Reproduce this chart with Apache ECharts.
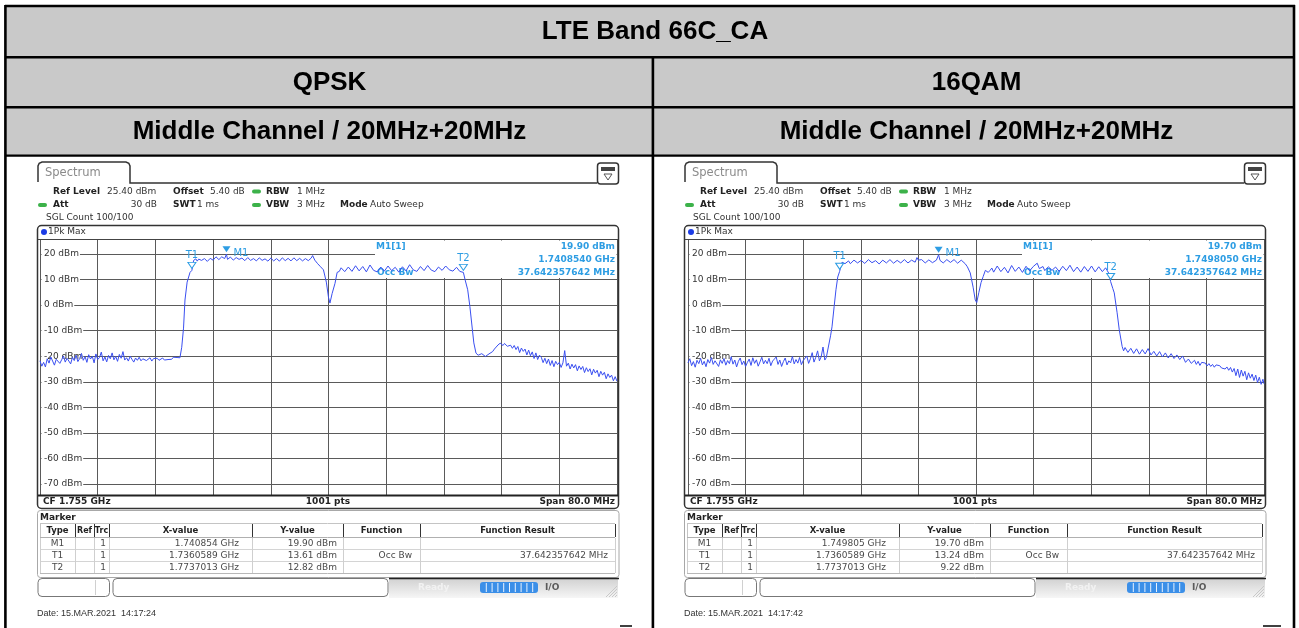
<!DOCTYPE html>
<html>
<head>
<meta charset="utf-8">
<script src="https://cdn.jsdelivr.net/npm/echarts@6/dist/echarts.min.js"></script>
<style>
  html, body { margin: 0; padding: 0; background: #fff; }
  #chart { width: 1299px; height: 628px; }
</style>
</head>
<body>
<div id="chart"></div>
<script>
// ---- data (x = MHz from start freq 1.715 GHz, y = dBm) ----
const tableTitle = 'LTE Band 66C_CA';
const panelTitles = ['QPSK', '16QAM'];
const channelLabel = 'Middle Channel / 20MHz+20MHz';

const qpskTrace = [
  [0,-21.8],[0.25,-23.9],[0.5,-22.4],[0.75,-24.2],[1,-21.0],[1.25,-22.7],[1.5,-20.3],[1.75,-21.9],[2,-23.5],[2.25,-21.2],
  [2.5,-20.6],[2.75,-22.8],[3,-21.4],[3.25,-19.9],[3.5,-22.3],[3.75,-20.8],[4,-21.9],[4.25,-23.0],[4.5,-20.4],[4.75,-21.7],
  [5,-19.6],[5.25,-22.1],[5.5,-20.9],[5.75,-18.9],[6,-21.6],[6.25,-20.2],[6.5,-22.4],[6.75,-19.4],[7,-21.1],[7.25,-20.0],
  [7.5,-22.6],[7.75,-19.1],[8,-21.3],[8.25,-20.5],[8.5,-18.4],[8.75,-21.8],[9,-20.3],[9.25,-22.2],[9.5,-19.7],[9.75,-21.0],
  [10,-18.7],[10.25,-21.4],[10.5,-20.1],[10.75,-22.0],[11,-19.3],[11.25,-20.8],[11.5,-18.2],[11.75,-21.5],[12,-20.6],[12.25,-21.9],
  [12.5,-20.0],[12.75,-21.2],[13,-22.3],[13.25,-20.7],[13.5,-21.6],[13.75,-20.4],[14,-21.8],[14.25,-21.0],[14.5,-20.5],[14.75,-21.7],
  [15,-21.2],[15.25,-20.6],[15.5,-21.9],[15.75,-20.9],[16,-21.4],[16.25,-20.8],[16.5,-21.6],[16.75,-21.1],[17,-20.7],[17.25,-21.5],
  [17.5,-20.9],[17.75,-21.3],[18,-20.6],[18.25,-21.2],[18.5,-20.4],[18.75,-21.0],[19,-20.5],[19.25,-20.9],[19.4,-20.6],
  [19.65,-16.5],[19.9,-9.0],[20.1,2.0],[20.4,9.0],[20.8,12.8],[21.06,13.6],[21.3,17.5],[21.6,18.1],[21.8,17.2],[22.0,18.0],
  [22.2,18.3],[22.4,17.5],[22.6,17.6],[22.8,18.2],[23.0,18.0],[23.2,17.1],[23.4,17.3],[23.6,18.3],[23.8,18.4],[24.0,17.6],
  [24.2,17.9],[24.4,18.9],[24.6,18.8],[24.8,17.8],[25.0,18.0],[25.2,18.9],[25.4,18.6],[25.6,18.2],[25.85,19.9],[26.0,17.9],
  [26.2,18.0],[26.4,18.8],[26.6,18.6],[26.8,17.6],[27.0,17.8],[27.2,18.6],[27.4,18.9],[27.6,17.9],[27.8,17.5],[28.0,18.4],
  [28.2,18.3],[28.4,17.4],[28.6,17.7],[28.8,18.6],[29.0,18.5],[29.2,17.5],[29.4,17.4],[29.6,18.2],[29.8,18.0],[30.0,17.3],
  [30.2,17.6],[30.4,18.5],[30.6,18.4],[30.8,17.5],[31.0,17.3],[31.2,18.1],[31.4,17.9],[31.6,17.2],[31.8,17.5],[32.0,18.4],
  [32.2,18.2],[32.4,17.3],[32.6,17.4],[32.8,18.2],[33.0,18.0],[33.2,17.2],[33.4,17.6],[33.6,18.5],[33.8,18.3],[34.0,17.4],
  [34.2,17.5],[34.4,18.3],[34.6,18.1],[34.8,17.3],[35.0,17.7],[35.2,18.5],[35.4,18.4],[35.6,17.4],[35.8,17.6],[36.0,18.3],
  [36.2,18.2],[36.4,17.3],[36.6,17.5],[36.8,18.2],[37.0,18.0],[37.2,17.4],[37.4,17.7],[37.6,18.4],[37.8,19.4],[38.1,17.6],
  [38.5,16.2],[38.9,15.0],[39.3,13.8],[39.7,9.0],[40.0,3.0],[40.2,0.8],[40.5,4.5],[40.9,8.5],[41.2,12.8],[41.5,13.2],
  [41.75,14.6],[42.0,14.3],[42.25,13.1],[42.5,12.8],[42.75,14.9],[43.0,14.6],[43.25,13.2],[43.5,13.5],[43.75,15.4],[44.0,15.2],
  [44.25,13.4],[44.5,13.8],[44.75,15.1],[45.0,14.9],[45.25,13.0],[45.5,13.4],[45.75,15.7],[46.0,15.5],[46.25,13.6],[46.5,14.0],
  [46.75,13.0],[47.0,13.2],[47.25,14.9],[47.5,14.7],[47.75,13.3],[48.0,13.6],[48.25,15.3],[48.5,15.0],[48.75,13.5],[49.0,13.9],
  [49.25,14.8],[49.5,14.4],[49.75,12.9],[50.0,13.1],[50.25,15.0],[50.5,14.8],[50.75,13.4],[51.0,13.7],[51.25,15.8],[51.5,15.6],
  [51.75,13.8],[52.0,14.1],[52.25,13.2],[52.5,13.5],[52.75,15.1],[53.0,14.9],[53.25,13.5],[53.5,13.8],[53.75,15.5],[54.0,15.3],
  [54.25,13.7],[54.5,14.0],[54.75,13.1],[55.0,13.4],[55.25,14.9],[55.5,14.6],[55.75,13.6],[56.0,13.9],[56.25,15.3],[56.5,15.1],
  [56.75,13.8],[57.0,14.2],[57.25,13.3],[57.5,13.6],[57.75,14.8],[58.0,14.5],[58.2,13.2],[58.4,13.4],[58.7,12.8],[58.95,9.8],
  [59.3,6.0],[59.6,-0.5],[59.85,-7.0],[60.15,-14.8],[60.45,-18.8],[60.75,-19.6],[61.0,-19.8],[61.25,-19.0],[61.5,-19.2],[61.75,-20.1],
  [62.0,-19.7],[62.25,-19.1],[62.5,-18.9],[62.75,-18.2],[63.0,-17.2],[63.25,-16.6],[63.5,-15.6],[63.8,-14.9],[64.0,-15.4],[64.2,-15.8],
  [64.4,-15.0],[64.6,-15.2],[64.8,-16.1],[65.0,-16.4],[65.25,-15.7],[65.5,-16.9],[65.75,-15.8],[66.0,-17.4],[66.25,-16.2],[66.5,-18.6],
  [66.75,-16.8],[67.0,-18.1],[67.25,-17.2],[67.5,-19.5],[67.75,-17.6],[68.0,-19.8],[68.25,-18.3],[68.5,-20.9],[68.75,-18.7],[69.0,-21.3],
  [69.25,-19.6],[69.5,-20.4],[69.75,-22.5],[70.0,-20.8],[70.25,-22.9],[70.5,-21.1],[70.75,-23.6],[71.0,-21.7],[71.25,-24.1],[71.5,-22.0],
  [71.75,-23.3],[72.0,-22.4],[72.25,-24.4],[72.5,-22.6],[72.75,-17.8],[73.0,-23.9],[73.25,-22.7],[73.5,-25.0],[73.75,-23.1],[74.0,-24.6],
  [74.25,-23.3],[74.5,-25.7],[74.75,-23.8],[75.0,-25.2],[75.25,-24.0],[75.5,-26.4],[75.75,-24.5],[76.0,-26.0],[76.25,-24.9],[76.5,-27.3],
  [76.75,-25.1],[77.0,-26.6],[77.25,-25.5],[77.5,-28.0],[77.75,-25.9],[78.0,-27.4],[78.25,-26.3],[78.5,-28.8],[78.75,-26.9],[79.0,-28.3],
  [79.25,-27.4],[79.5,-29.6],[79.75,-28.0],[80.0,-29.8]
];

const qam16Trace = [
  [0,-22.6],[0.25,-21.0],[0.5,-23.7],[0.75,-22.1],[1,-24.3],[1.25,-21.6],[1.5,-22.9],[1.75,-20.8],[2,-23.4],[2.25,-22.0],
  [2.5,-24.1],[2.75,-21.3],[3,-22.7],[3.25,-20.5],[3.5,-23.2],[3.75,-21.8],[4,-22.5],[4.25,-24.0],[4.5,-21.4],[4.75,-22.8],
  [5,-20.9],[5.25,-23.5],[5.5,-21.7],[5.75,-22.9],[6,-20.2],[6.25,-23.1],[6.5,-21.5],[6.75,-24.2],[7,-22.0],[7.25,-20.7],
  [7.5,-23.3],[7.75,-21.9],[8,-24.0],[8.25,-22.4],[8.5,-21.1],[8.75,-23.6],[9,-20.6],[9.25,-22.8],[9.5,-21.4],[9.75,-23.9],
  [10,-22.2],[10.25,-20.4],[10.5,-23.0],[10.75,-21.6],[11,-22.9],[11.25,-20.8],[11.5,-23.7],[11.75,-21.9],[12,-22.5],[12.25,-20.3],
  [12.5,-23.2],[12.75,-21.5],[13,-24.0],[13.25,-22.1],[13.5,-20.7],[13.75,-23.4],[14,-21.8],[14.25,-22.6],[14.5,-20.1],[14.75,-23.0],
  [15,-21.3],[15.25,-22.7],[15.5,-20.5],[15.75,-23.3],[16,-21.7],[16.25,-22.4],[16.5,-19.9],[16.75,-22.8],[17,-21.0],[17.25,-18.6],
  [17.5,-22.3],[17.75,-20.4],[18,-17.9],[18.25,-21.8],[18.5,-20.2],[18.75,-16.4],[19,-21.5],[19.2,-20.6],
  [19.45,-21.0],[19.8,-12.0],[20.0,-8.5],[20.3,-0.5],[20.55,6.0],[20.8,11.0],[21.06,13.2],[21.4,16.8],[21.6,17.4],[21.8,16.2],
  [22.05,16.9],[22.3,17.3],[22.55,16.2],[22.8,16.6],[23.05,17.6],[23.3,17.4],[23.55,16.5],[23.8,16.4],[24.05,17.5],[24.3,17.2],
  [24.55,16.3],[24.8,16.7],[25.05,17.8],[25.3,17.5],[25.55,16.6],[25.8,16.5],[26.05,17.4],[26.3,17.1],[26.55,16.1],[26.8,16.3],
  [27.05,17.6],[27.3,17.4],[27.55,16.5],[27.8,16.8],[28.05,17.8],[28.3,17.6],[28.55,16.4],[28.8,16.6],[29.05,17.5],[29.3,17.2],
  [29.55,16.5],[29.8,16.9],[30.05,17.8],[30.3,17.5],[30.55,16.5],[30.8,16.7],[31.05,17.6],[31.3,17.3],[31.55,16.8],[31.8,18.6],
  [32.0,17.6],[32.2,17.0],[32.45,17.8],[32.7,17.6],[32.95,16.5],[33.2,16.8],[33.45,17.7],[33.7,17.4],[33.95,16.6],[34.2,16.9],
  [34.5,17.6],[34.805,19.7],[35.0,17.5],[35.2,17.2],[35.45,16.5],[35.7,16.8],[35.95,17.8],[36.2,17.6],[36.45,16.7],[36.7,17.0],
  [36.95,17.8],[37.2,17.5],[37.45,16.4],[37.7,16.6],[37.95,17.6],[38.2,17.3],[38.5,16.2],[38.8,15.0],[39.2,12.6],[39.6,7.0],
  [39.9,2.0],[40.1,1.0],[40.4,5.0],[40.7,8.8],[41.0,11.2],[41.3,13.6],[41.5,14.3],[41.7,12.8],[41.95,13.6],[42.2,14.5],
  [42.45,12.9],[42.7,13.3],[42.95,15.3],[43.2,15.0],[43.45,13.1],[43.7,13.6],[43.95,14.8],[44.2,14.2],[44.45,12.6],[44.7,12.9],
  [44.95,15.5],[45.2,15.2],[45.45,13.2],[45.7,13.5],[45.95,14.9],[46.2,14.6],[46.45,12.8],[46.7,13.0],[46.95,15.2],[47.2,14.9],
  [47.45,13.4],[47.7,13.7],[47.95,15.1],[48.2,15.8],[48.5,16.4],[48.8,14.3],[49.05,14.0],[49.3,15.1],[49.55,13.5],[49.8,13.8],
  [50.05,15.0],[50.3,14.7],[50.55,13.6],[50.8,14.0],[51.05,14.9],[51.3,14.4],[51.55,13.2],[51.8,13.6],[52.05,15.2],[52.3,14.9],
  [52.55,13.5],[52.8,13.9],[53.05,15.6],[53.3,15.3],[53.55,13.1],[53.8,13.4],[54.05,14.9],[54.3,14.6],[54.55,12.9],[54.8,13.2],
  [55.05,15.1],[55.3,14.8],[55.55,13.2],[55.8,13.5],[56.05,15.3],[56.3,15.0],[56.55,13.0],[56.8,12.9],[57.05,15.0],[57.3,14.7],
  [57.55,13.1],[57.8,13.3],[58.0,14.6],[58.2,14.2],[58.5,12.2],[58.7,9.2],[59.0,6.5],[59.2,4.8],[59.6,-3.0],[59.9,-9.7],
  [60.3,-16.2],[60.5,-17.9],[60.7,-16.6],[60.9,-17.0],[61.1,-18.5],[61.3,-18.2],[61.5,-16.9],[61.7,-16.8],[61.9,-18.9],[62.1,-18.6],
  [62.3,-17.1],[62.5,-17.4],[62.7,-19.2],[62.9,-19.0],[63.1,-17.4],[63.3,-17.6],[63.5,-19.1],[63.7,-18.8],[63.9,-17.0],[64.1,-17.2],
  [64.3,-19.5],[64.5,-19.3],[64.7,-18.1],[64.9,-18.4],[65.1,-19.9],[65.3,-19.6],[65.5,-18.2],[65.7,-18.5],[65.9,-20.3],[66.1,-20.1],
  [66.3,-18.7],[66.5,-18.9],[66.7,-20.7],[66.9,-20.4],[67.1,-19.0],[67.3,-19.2],[67.5,-20.9],[67.7,-20.6],[67.9,-19.5],[68.1,-19.8],
  [68.3,-21.3],[68.5,-21.0],[68.7,-19.9],[68.9,-20.2],[69.1,-22.4],[69.3,-22.1],[69.5,-21.1],[69.7,-21.4],[69.9,-22.8],
  [70.1,-22.5],[70.35,-21.6],[70.6,-23.2],[70.85,-22.0],[71.1,-23.6],[71.35,-22.4],[71.6,-23.1],[71.85,-22.7],[72.1,-23.8],[72.35,-22.9],
  [72.6,-24.0],[72.85,-23.2],[73.1,-24.3],[73.35,-23.4],[73.6,-24.1],[73.85,-23.7],[74.1,-24.6],[74.35,-23.9],[74.6,-25.0],[74.85,-24.2],
  [75.1,-25.5],[75.35,-24.4],[75.6,-26.2],[75.85,-24.8],[76.1,-27.6],[76.35,-25.0],[76.6,-28.3],[76.85,-25.4],[77.1,-27.8],[77.35,-25.9],
  [77.6,-29.2],[77.85,-26.5],[78.1,-28.6],[78.35,-27.0],[78.6,-29.5],[78.85,-27.4],[79.1,-30.3],[79.35,-28.2],[79.6,-31.0],[79.85,-29.0],
  [80.0,-30.8]
];

// markers: name, MHz from start, dBm
const qpskMarkers = [['M1', 25.854, 19.90], ['T1', 21.0589, 13.61], ['T2', 58.7013, 12.82]];
const qam16Markers = [['M1', 34.805, 19.70], ['T1', 21.0589, 13.24], ['T2', 58.7013, 9.22]];

const qpskReadout = ['19.90 dBm', '1.7408540 GHz', '37.642357642 MHz'];
const qam16Readout = ['19.70 dBm', '1.7498050 GHz', '37.642357642 MHz'];

const markerHead = ['Type', 'Ref', 'Trc', 'X-value', 'Y-value', 'Function', 'Function Result'];
const qpskRows = [
  ['M1', '', '1', '1.740854 GHz', '19.90 dBm', '', ''],
  ['T1', '', '1', '1.7360589 GHz', '13.61 dBm', 'Occ Bw', '37.642357642 MHz'],
  ['T2', '', '1', '1.7737013 GHz', '12.82 dBm', '', '']
];
const qam16Rows = [
  ['M1', '', '1', '1.749805 GHz', '19.70 dBm', '', ''],
  ['T1', '', '1', '1.7360589 GHz', '13.24 dBm', 'Occ Bw', '37.642357642 MHz'],
  ['T2', '', '1', '1.7737013 GHz', '9.22 dBm', '', '']
];
const dates = ['Date: 15.MAR.2021  14:17:24', 'Date: 15.MAR.2021  14:17:42'];

// ---- styling ----
const TRACE = '#3a4ff0';
const MARK = '#2d9de3';
const GRIDC = '#5a5a5a';
const RS = '"DejaVu Sans", Verdana, sans-serif';
const AR = '"Liberation Sans", Arial, sans-serif';

function txt(x, y, text, o) {
  o = o || {};
  return {
    type: 'text', x: x, y: y, z: o.z == null ? 5 : o.z, z2: 2, silent: true,
    style: {
      text: text, fill: o.color || '#333',
      font: (o.bold ? 'bold ' : '') + (o.size || 9) + 'px ' + (o.family || RS),
      align: o.align || 'left', verticalAlign: 'middle'
    }
  };
}
function line(x1, y1, x2, y2, stroke, lw, z) {
  return { type: 'line', z: z == null ? 4 : z, silent: true,
    shape: { x1: x1, y1: y1, x2: x2, y2: y2 }, style: { stroke: stroke, lineWidth: lw } };
}
function rect(x, y, w, h, style, r, z) {
  return { type: 'rect', z: z == null ? 4 : z, silent: true,
    shape: { x: x, y: y, width: w, height: h, r: r || 0 }, style: style };
}

function panel(dx, readout, rows, date) {
  const g = [];
  // tab + header line
  g.push({ type: 'polyline', z: 4, silent: true,
    shape: { points: [[38,182],[38,166],[39.2,163.2],[42,162],[126,162],[128.8,163.2],[130,166],[130,183],[597,183]].map(p => [p[0] + dx, p[1]]) },
    style: { stroke: '#333', lineWidth: 1.5, fill: 'none' } });
  g.push(txt(45 + dx, 173, 'Spectrum', { size: 11.5, color: '#8a8a8a' }));
  // icon
  g.push(rect(597.5 + dx, 163, 21, 21, { fill: '#fff', stroke: '#333', lineWidth: 1.5 }, 3));
  g.push(rect(601 + dx, 167, 14, 4, { fill: '#444' }, 0, 5));
  g.push({ type: 'polygon', z: 5, silent: true, shape: { points: [[604 + dx, 174], [612 + dx, 174], [608 + dx, 180]] },
    style: { fill: '#fff', stroke: '#555', lineWidth: 1 } });

  // settings
  const b = { bold: true, color: '#222' };
  g.push(txt(53 + dx, 191.5, 'Ref Level', b));
  g.push(txt(107 + dx, 191.5, '25.40 dBm'));
  g.push(txt(173 + dx, 191.5, 'Offset', b));
  g.push(txt(210 + dx, 191.5, '5.40 dB'));
  g.push(rect(252 + dx, 189.5, 9, 4, { fill: '#3cb24a' }, 2));
  g.push(txt(266 + dx, 191.5, 'RBW', b));
  g.push(txt(297 + dx, 191.5, '1 MHz'));
  g.push(rect(38 + dx, 203, 9, 4, { fill: '#3cb24a' }, 2));
  g.push(txt(53 + dx, 205, 'Att', b));
  g.push(txt(157 + dx, 205, '30 dB', { align: 'right' }));
  g.push(txt(173 + dx, 205, 'SWT', b));
  g.push(txt(219 + dx, 205, '1 ms', { align: 'right' }));
  g.push(rect(252 + dx, 203, 9, 4, { fill: '#3cb24a' }, 2));
  g.push(txt(266 + dx, 205, 'VBW', b));
  g.push(txt(297 + dx, 205, '3 MHz'));
  g.push(txt(340 + dx, 205, 'Mode', b));
  g.push(txt(370 + dx, 205, 'Auto Sweep'));
  g.push(txt(46 + dx, 218, 'SGL Count 100/100'));

  // diagram frame
  g.push(rect(37.5 + dx, 225.5, 581, 283, { fill: 'none', stroke: '#333', lineWidth: 1.5 }, 4));
  g.push({ type: 'circle', z: 5, silent: true, shape: { cx: 44 + dx, cy: 232, r: 3 }, style: { fill: '#1c3ce6' } });
  g.push(txt(48 + dx, 232, '1Pk Max'));
  g.push(line(38 + dx, 239.5, 618 + dx, 239.5, '#444', 1.2));
  g.push(line(38 + dx, 495.5, 618 + dx, 495.5, '#222', 1.8));
  g.push(txt(43 + dx, 502, 'CF 1.755 GHz', b));
  g.push(txt(328 + dx, 502, '1001 pts', { bold: true, color: '#222', align: 'center' }));
  g.push(txt(615 + dx, 502, 'Span 80.0 MHz', { bold: true, color: '#222', align: 'right' }));

  // marker readout box (under trace)
  g.push(rect(375 + dx, 240.5, 241.5, 37.5, { fill: '#fff' }, 0, 1));
  g.push(txt(376 + dx, 246.5, 'M1[1]', { bold: true, color: MARK, z: 1 }));
  g.push(txt(615 + dx, 246.5, readout[0], { bold: true, color: MARK, align: 'right', z: 1 }));
  g.push(txt(615 + dx, 259.5, readout[1], { bold: true, color: MARK, align: 'right', z: 1 }));
  g.push(txt(615 + dx, 272.5, readout[2], { bold: true, color: MARK, align: 'right', z: 1 }));
  g.push(txt(377 + dx, 272.5, 'Occ Bw', { bold: true, color: MARK, z: 1 }));

  // marker table
  g.push(rect(37.5 + dx, 510.5, 581.5, 67, { fill: 'none', stroke: '#a8a8a8', lineWidth: 1 }, 3));
  g.push(txt(40 + dx, 517.5, 'Marker', b));
  const cols = [40, 75, 94, 109, 252, 343, 420, 615];
  g.push(line(40 + dx, 523.5, 615 + dx, 523.5, '#c4c4c4', 1));
  g.push(line(40 + dx, 537.5, 615 + dx, 537.5, '#b0b0b0', 1));
  g.push(line(40 + dx, 549.5, 615 + dx, 549.5, '#d4d4d4', 1));
  g.push(line(40 + dx, 561.5, 615 + dx, 561.5, '#d4d4d4', 1));
  g.push(line(40 + dx, 573.5, 615 + dx, 573.5, '#b8b8b8', 1));
  cols.forEach((c, i) => {
    g.push(line(c + 0.5 + dx, 524, c + 0.5 + dx, 537, i === 0 ? '#c4c4c4' : '#333', 1));
    g.push(line(c + 0.5 + dx, 538, c + 0.5 + dx, 573, '#cfcfcf', 1));
  });
  markerHead.forEach((h, i) => {
    g.push(txt((cols[i] + cols[i + 1]) / 2 + dx, 530.5, h, { bold: true, color: '#222', size: i > 0 && i < 3 ? 8 : 8.5, align: 'center' }));
  });
  const rx = [57.5, 84.5, 106, 239, 337, 412, 608];
  const ra = ['center', 'center', 'right', 'right', 'right', 'right', 'right'];
  rows.forEach((r, j) => {
    r.forEach((v, i) => {
      if (v) g.push(txt(rx[i] + dx, 543.5 + j * 12, v, { color: '#4a4a4a', align: ra[i] }));
    });
  });

  // status bar
  g.push(rect(38 + dx, 578.5, 71.5, 18, { fill: '#fff', stroke: '#777', lineWidth: 1 }, 4));
  g.push(line(95.5 + dx, 580, 95.5 + dx, 595, '#d0d0d0', 1));
  g.push(rect(113 + dx, 578.5, 275, 18, { fill: '#fff', stroke: '#777', lineWidth: 1 }, 4));
  g.push(rect(389 + dx, 579, 229, 19, { fill: new echarts.graphic.LinearGradient(0, 0, 0, 1, [
    { offset: 0, color: '#d2d2d2' }, { offset: 1, color: '#f6f6f6' }]) }, 0, 3));
  g.push(line(389 + dx, 578.5, 619 + dx, 578.5, '#222', 1.5));
  g.push(txt(418 + dx, 588, 'Ready', { bold: true, color: '#f2f2f2' }));
  g.push(rect(480 + dx, 582, 58, 11, { fill: '#3b8fe8' }, 3));
  for (let k = 1; k < 10; k++) {
    g.push(line(480.5 + k * 5.8 + dx, 583, 480.5 + k * 5.8 + dx, 592, '#e8f2ff', 1, 5));
  }
  g.push(txt(545 + dx, 588, 'I/O', { bold: true, color: '#5a5a5a', size: 9 }));
  for (let k = 0; k < 4; k++) {
    g.push(line(606 + k * 3 + dx, 597, 617 + dx, 586 + k * 3, '#c8c8c8', 1));
  }
  g.push(txt(37 + dx, 613.5, date, { family: AR, color: '#333', size: 9 }));
  return g;
}

function markPts(markers) {
  return markers.map(m => ({
    name: m[0], coord: [m[1], m[2]],
    symbol: 'path://M0,0L10,0L5,8Z', symbolSize: [8, 6], symbolOffset: [0, -5],
    itemStyle: m[0] === 'M1' ? { color: MARK } : { color: '#fff', borderColor: MARK, borderWidth: 1 },
    label: m[0] === 'M1'
      ? { show: true, position: 'right', distance: 3, offset: [0, 4], formatter: '{b}', color: MARK, fontSize: 10, fontFamily: RS }
      : { show: true, position: 'top', distance: 1, formatter: '{b}', color: MARK, fontSize: 10, fontFamily: RS }
  }));
}

// ---- table frame ----
const table = [];
table.push(rect(6, 6, 1288, 150, { fill: '#c9c9c9' }, 0, 0));
table.push(line(5, 6, 1295, 6, '#000', 2.4));
table.push(line(5, 57.3, 1295, 57.3, '#000', 2.4));
table.push(line(5, 107.3, 1295, 107.3, '#000', 2.4));
table.push(line(5, 155.6, 1295, 155.6, '#000', 2.4));
table.push(line(5.4, 5, 5.4, 628, '#000', 2.6));
table.push(line(1294, 5, 1294, 628, '#000', 2.6));
table.push(line(652.9, 57, 652.9, 628, '#000', 2.6));
table.push(line(620, 626, 632, 626, '#000', 1.5));
table.push(line(1263, 626, 1281, 626, '#000', 1.5));
table.push(txt(655, 32, tableTitle, { bold: true, size: 26, family: AR, color: '#000', align: 'center' }));
table.push(txt(329.5, 83, panelTitles[0], { bold: true, size: 26, family: AR, color: '#000', align: 'center' }));
table.push(txt(976.5, 83, panelTitles[1], { bold: true, size: 26, family: AR, color: '#000', align: 'center' }));
table.push(txt(329.5, 132, channelLabel, { bold: true, size: 26, family: AR, color: '#000', align: 'center' }));
table.push(txt(976.5, 132, channelLabel, { bold: true, size: 26, family: AR, color: '#000', align: 'center' }));

const graphics = table
  .concat(panel(0, qpskReadout, qpskRows, dates[0]))
  .concat(panel(647, qam16Readout, qam16Rows, dates[1]));

// ---- axes ----
function frameX(gi) {
  return { gridIndex: gi, type: 'value', min: 0, max: 80, interval: 8,
    axisLine: { show: false }, axisTick: { show: false }, axisLabel: { show: false },
    splitLine: { show: true, lineStyle: { color: GRIDC, width: 1 } } };
}
function frameY(gi) {
  return { gridIndex: gi, type: 'value', min: 0, max: 1, show: false };
}
function dataX(gi) {
  return { gridIndex: gi, type: 'value', min: 0, max: 80, show: false };
}
function dataY(gi) {
  return { gridIndex: gi, type: 'value', min: -70, max: 20, interval: 10,
    axisLine: { show: false }, axisTick: { show: false },
    axisLabel: { inside: true, margin: 1.5, formatter: '{value} dBm', color: '#333', fontSize: 9, fontFamily: RS,
      backgroundColor: '#fff', padding: [1, 1, 1, 2.5], showMinLabel: true, showMaxLabel: true },
    splitLine: { show: true, lineStyle: { color: GRIDC, width: 1 } } };
}

const option = {
  animation: false,
  textStyle: { fontFamily: RS },
  grid: [
    { left: 40, top: 240, width: 577, height: 255 },
    { left: 40, top: 254, width: 577, height: 230 },
    { left: 688, top: 240, width: 576, height: 255 },
    { left: 688, top: 254, width: 576, height: 230 }
  ],
  xAxis: [frameX(0), dataX(1), frameX(2), dataX(3)],
  yAxis: [frameY(0), dataY(1), frameY(2), dataY(3)],
  series: [
    { type: 'line', name: 'QPSK', xAxisIndex: 1, yAxisIndex: 1, data: qpskTrace,
      showSymbol: false, lineStyle: { color: TRACE, width: 1 }, itemStyle: { color: TRACE },
      markPoint: { data: markPts(qpskMarkers), animation: false } },
    { type: 'line', name: '16QAM', xAxisIndex: 3, yAxisIndex: 3, data: qam16Trace,
      showSymbol: false, lineStyle: { color: TRACE, width: 1 }, itemStyle: { color: TRACE },
      markPoint: { data: markPts(qam16Markers), animation: false } }
  ],
  graphic: { elements: graphics }
};

const chart = echarts.init(document.getElementById('chart'), null, { renderer: 'canvas' });
chart.setOption(option);
</script>
</body>
</html>
